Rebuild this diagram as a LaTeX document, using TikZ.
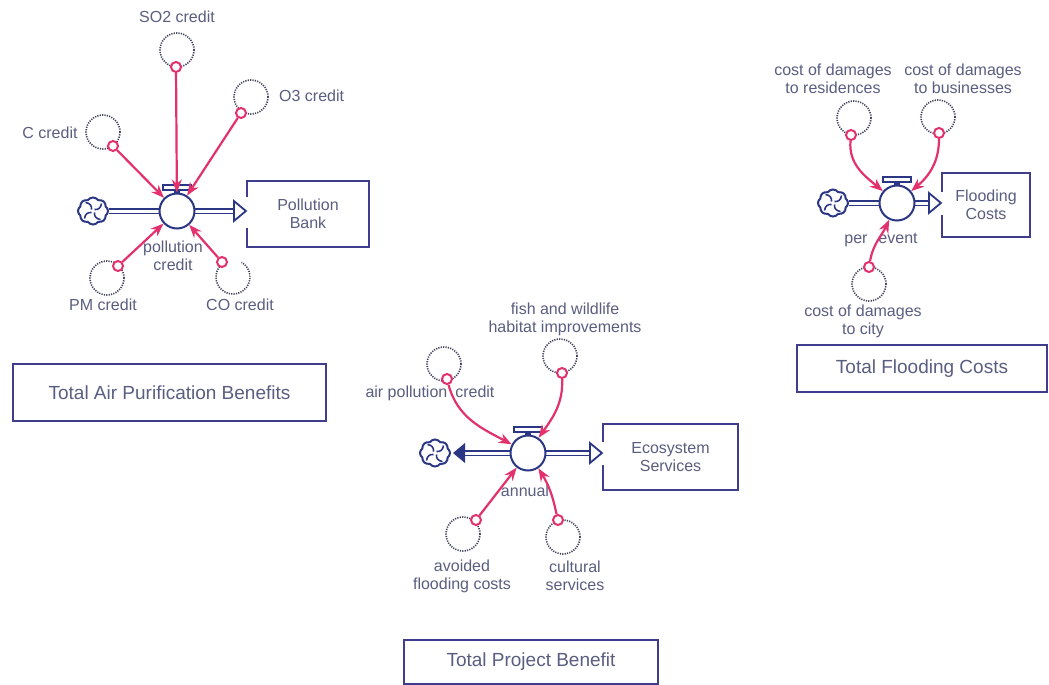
\documentclass[tikz,border=0pt]{standalone}
\usepackage{fontspec}
\setmainfont{Liberation Sans}
\usetikzlibrary{arrows.meta,shapes.symbols,calc}
\definecolor{flowblue}{HTML}{2B3785}
\definecolor{boxblue}{HTML}{3F3D8C}
\definecolor{linkpink}{HTML}{E2316B}
\definecolor{labelgray}{HTML}{5A5E80}
\definecolor{dotgray}{HTML}{40425C}
\tikzset{
  lbl/.style={text=labelgray, font=\fontsize{16}{18}\selectfont, align=center, inner sep=0},
  titlebox/.style={draw=boxblue, line width=2.2pt, text=labelgray, font=\fontsize{19}{22}\selectfont, inner sep=0},
  auxline/.style={draw=dotgray, line width=1.6pt, dash pattern=on 1.2pt off 1.2pt},
  aux/.style={circle, auxline, minimum size=34pt, inner sep=0},
  auxnodraw/.style={circle, minimum size=34pt, inner sep=0},
  tap/.style={circle, draw=linkpink, fill=white, line width=2pt, minimum size=10pt, inner sep=0},
  link/.style={draw=linkpink, line width=2.2pt, -{Stealth[length=13pt,width=10pt]}},
  valve/.style={circle, draw=flowblue, fill=white, line width=2pt, minimum size=35pt, inner sep=0},
  cloudn/.style={cloud, cloud puffs=8, cloud puff arc=110, aspect=1.1, draw=flowblue, fill=white, line width=2pt, minimum width=30pt, minimum height=27pt, inner sep=0},
  pipe/.style={draw=flowblue, line width=1.8pt, double=white, double distance=3pt},
  stock/.style={draw=boxblue, line width=2.2pt, fill=white, text=labelgray, font=\fontsize{16}{18}\selectfont, align=center, inner sep=0},
  swirl/.pic={
    \foreach \a in {0,90,180,270}{
      \draw[flowblue, line width=1.6pt, rotate=\a] (1.5,1.5) .. controls (5,1) and (8,3) .. (8.5,7.5);
    }
  },
  handle/.pic={
    \fill[flowblue] (-3,16) rectangle (3,21);
    \draw[flowblue, line width=1.6pt, fill=white] (-14,21) rectangle (14,26);
  },
  opentri/.pic={
    \draw[flowblue, line width=1.8pt, fill=white, line join=miter] (0,0) -- (-12,10) -- (-12,-10) -- cycle;
  },
  filltri/.pic={
    \fill[flowblue] (0,0) -- (12,10) -- (12,-10) -- cycle;
  }
}
\begin{document}
\begin{tikzpicture}[x=1pt,y=1pt]
\useasboundingbox (0,0) rectangle (1049,-685);
\fill[white] (0,0) rectangle (1049,-685);

%%%%%%%% Air purification %%%%%%%%
\node[stock, minimum width=122pt, minimum height=66pt] (bank) at (308,-214) {Pollution\\Bank};
\node[cloudn] (cloudA) at (93,-211) {};
\pic at (cloudA) {swirl};
\coordinate (tipA) at (bank.west |- 0,-211);
\draw[pipe] (cloudA.east) -- (177,-211);
\draw[pipe] (177,-211) -- ($(tipA)+(-11,0)$);
\draw[white, line width=3.5pt] ($(tipA)+(0,14)$) -- ($(tipA)+(0,-17)$);
\pic at (tipA) {opentri};
\pic at (177,-211) {handle};
\node[valve] (vA) at (177,-211) {};

\node[aux] (aC) at (103,-132) {};
\node[aux] (aSO) at (177,-50) {};
\node[aux] (aO) at (251,-97) {};
\node[aux] (aPM) at (107,-278) {};
\node[auxnodraw] (aCO) at (233,-277) {};
\draw[auxline] ($(aCO)+(126:17)$) arc[start angle=126, end angle=420, radius=17];

\node[lbl] (lSO) at (177,-17) {SO2 credit};
\node[lbl, anchor=west] (lO) at (279,-96) {O3 credit};
\node[lbl] (lC) at (50,-133) {C credit};
\node[lbl] (lPM) at (103,-305) {PM credit};
\node[lbl] (lCO) at (240,-305) {CO credit};
\node[lbl] (lpc) at (173,-256) {pollution\\credit};

\node[tap] (tC) at (113,-146) {};
\node[tap] (tSO) at (176,-67) {};
\node[tap] (tO) at (241,-113) {};
\node[tap] (tPM) at (118,-266) {};
\node[tap] (tCO) at (222,-262) {};
\draw[link] (tC) -- (vA);
\draw[link] (tSO) -- (vA);
\draw[link] (tO) -- (vA);
\draw[link] (tPM) -- (vA);
\draw[link] (tCO) -- (vA);

\node[titlebox, minimum width=313pt, minimum height=57pt] (totA) at (169.5,-392.5) {Total Air Purification Benefits};

%%%%%%%% Ecosystem services %%%%%%%%
\node[stock, minimum width=135pt, minimum height=66pt] (eco) at (670.5,-457) {Ecosystem\\Services};
\node[cloudn] (cloudE) at (435,-453) {};
\pic at (cloudE) {swirl};
\coordinate (tipE) at (eco.west |- 0,-453);
\coordinate (tipEl) at (453,-453);
\draw[pipe] ($(tipEl)+(12,0)$) -- (528,-453);
\draw[pipe] (528,-453) -- ($(tipE)+(-11,0)$);
\draw[white, line width=3.5pt] ($(tipE)+(0,11)$) -- ($(tipE)+(0,-12)$);
\pic at (tipE) {opentri};
\pic at (tipEl) {filltri};
\pic at (528,-453) {handle};
\node[valve] (vE) at (528,-453) {};

\node[aux] (aAP) at (444,-364) {};
\node[aux] (aFi) at (560,-356) {};
\node[aux] (aAv) at (463,-534) {};
\node[aux] (aCu) at (563,-537) {};

\node[lbl] (lAP) at (430,-393) {air pollution\hspace{8pt}credit};
\node[lbl] (lFi) at (565,-319) {fish and wildlife\\habitat improvements};
\node[lbl] (lan) at (525,-491) {annual};
\node[lbl] (lAv) at (462,-576) {avoided\\flooding costs};
\node[lbl] (lCu) at (575,-576) {cultural\\services};

\node[tap] (tAP) at (447,-379) {};
\node[tap] (tFi) at (562,-373) {};
\node[tap] (tAv) at (476,-520) {};
\node[tap] (tCu) at (558,-520) {};
\draw[link] (tAP) to[out=-75, in=152] (vE);
\draw[link] (tFi) to[out=-88, in=55] (vE);
\draw[link] (tAv) -- (vE);
\draw[link] (tCu) to[bend right=10] (vE);

\node[titlebox, minimum width=254pt, minimum height=44pt] (totP) at (531,-662) {Total Project Benefit};

%%%%%%%% Flooding costs %%%%%%%%
\node[stock, minimum width=88pt, minimum height=64pt] (flood) at (986,-205) {Flooding\\Costs};
\node[cloudn] (cloudF) at (833,-203) {};
\pic at (cloudF) {swirl};
\coordinate (tipF) at (flood.west |- 0,-203);
\draw[pipe] (cloudF.east) -- (897,-203);
\draw[pipe] (897,-203) -- ($(tipF)+(-11,0)$);
\draw[white, line width=3.5pt] ($(tipF)+(0,11)$) -- ($(tipF)+(0,-12)$);
\pic at (tipF) {opentri};
\pic at (897,-203) {handle};
\node[valve] (vF) at (897,-203) {};

\node[aux] (aRe) at (854,-118) {};
\node[aux] (aBu) at (938,-117) {};
\node[aux] (aCi) at (869,-284) {};

\node[lbl] (lRe) at (833,-79) {cost of damages\\to residences};
\node[lbl] (lBu) at (963,-79) {cost of damages\\to businesses};
\node[lbl] (lpe) at (881,-240) {per\hspace{11pt}event};
\node[lbl] (lCi) at (863,-321) {cost of damages\\to city};

\node[tap] (tRe) at (851,-135) {};
\node[tap] (tBu) at (939,-133) {};
\node[tap] (tCi) at (869,-267) {};
\draw[link] (tRe) to[out=-95, in=140] (vF);
\draw[link] (tBu) to[out=-90, in=40] (vF);
\draw[link] (tCi) to[out=80, in=-115] (vF);

\node[titlebox, minimum width=250pt, minimum height=47pt] (totF) at (922,-368.5) {Total Flooding Costs};
\end{tikzpicture}
\end{document}
